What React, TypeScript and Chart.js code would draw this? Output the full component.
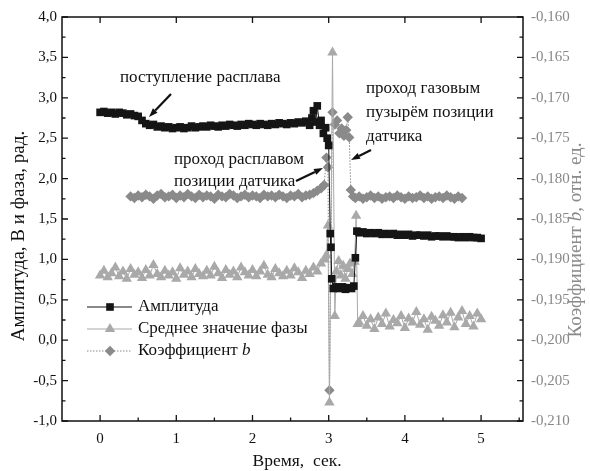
import React, { useEffect, useRef } from "react";
import { Chart, registerables } from "chart.js";
Chart.register(...registerables);

// ---------- tick definitions ----------
const xTicks = [0, 1, 2, 3, 4, 5];
const xTickLabels = ["0", "1", "2", "3", "4", "5"];
const xMinorTicks = [0.5, 1.5, 2.5, 3.5, 4.5, 5.5];
const leftTicks = [-1, -0.5, 0, 0.5, 1, 1.5, 2, 2.5, 3, 3.5, 4];
const leftTickLabels = ["-1,0", "-0,5", "0,0", "0,5", "1,0", "1,5", "2,0", "2,5", "3,0", "3,5", "4,0"];
const leftMinorTicks = [-0.75, -0.25, 0.25, 0.75, 1.25, 1.75, 2.25, 2.75, 3.25, 3.75];
const rightTicks = [-0.21, -0.205, -0.2, -0.195, -0.19, -0.185, -0.18, -0.175, -0.17, -0.165, -0.16];
const rightTickLabels = ["-0,210", "-0,205", "-0,200", "-0,195", "-0,190", "-0,185", "-0,180", "-0,175", "-0,170", "-0,165", "-0,160"];
const rightMinorTicks = [-0.2075, -0.2025, -0.1975, -0.1925, -0.1875, -0.1825, -0.1775, -0.1725, -0.1675, -0.1625];

// ---------- series: Амплитуда ----------
const ampTime = [
  0.00, 0.05, 0.10, 0.15, 0.20, 0.25, 0.30, 0.35, 0.40, 0.45,
  0.50, 0.55, 0.60, 0.65, 0.70, 0.75, 0.80, 0.85, 0.90, 0.95,
  1.00, 1.05, 1.10, 1.15, 1.20, 1.25, 1.30, 1.35, 1.40, 1.45,
  1.50, 1.55, 1.60, 1.65, 1.70, 1.75, 1.80, 1.85, 1.90, 1.95,
  2.00, 2.05, 2.10, 2.15, 2.20, 2.25, 2.30, 2.35, 2.40, 2.45,
  2.50, 2.55, 2.60, 2.65, 2.70, 2.75, 2.78, 2.80, 2.83, 2.85,
  2.88, 2.90, 2.93, 2.96, 2.98, 3.00, 3.02, 3.03, 3.04, 3.06,
  3.10, 3.14, 3.18, 3.22, 3.26, 3.30, 3.33, 3.35, 3.37, 3.40,
  3.45, 3.50, 3.55, 3.60, 3.65, 3.70, 3.75, 3.80, 3.85, 3.90,
  3.95, 4.00, 4.05, 4.10, 4.15, 4.20, 4.25, 4.30, 4.35, 4.40,
  4.45, 4.50, 4.55, 4.60, 4.65, 4.70, 4.75, 4.80, 4.85, 4.90,
  4.95, 5.00,
];
const ampValue = [
  2.82, 2.83, 2.81, 2.82, 2.80, 2.82, 2.81, 2.79, 2.80, 2.78,
  2.77, 2.72, 2.68, 2.66, 2.67, 2.64, 2.65, 2.63, 2.64, 2.62,
  2.63, 2.64, 2.62, 2.63, 2.65, 2.63, 2.64, 2.65, 2.64, 2.66,
  2.65, 2.64, 2.66, 2.65, 2.67, 2.66, 2.65, 2.67, 2.66, 2.68,
  2.67, 2.66, 2.68, 2.67, 2.66, 2.68, 2.67, 2.69, 2.68, 2.67,
  2.69, 2.68, 2.70, 2.69, 2.71, 2.66, 2.75, 2.84, 2.70, 2.90,
  2.66, 2.72, 2.56, 2.63, 2.50, 2.41, 1.32, 1.15, 0.76, 0.64,
  0.66, 0.64, 0.66, 0.63, 0.65, 0.64, 0.67, 1.02, 1.35, 1.33,
  1.34, 1.32, 1.33, 1.32, 1.33, 1.31, 1.32, 1.31, 1.32, 1.30,
  1.31, 1.30, 1.31, 1.29, 1.30, 1.30, 1.29, 1.30, 1.28, 1.29,
  1.29, 1.28, 1.29, 1.28, 1.28, 1.27, 1.28, 1.27, 1.28, 1.27,
  1.27, 1.26,
];

// ---------- series: Среднее значение фазы ----------
const phaseTime = [
  0.00, 0.05, 0.10, 0.15, 0.20, 0.25, 0.30, 0.35, 0.40, 0.45,
  0.50, 0.55, 0.60, 0.65, 0.70, 0.75, 0.80, 0.85, 0.90, 0.95,
  1.00, 1.05, 1.10, 1.15, 1.20, 1.25, 1.30, 1.35, 1.40, 1.45,
  1.50, 1.55, 1.60, 1.65, 1.70, 1.75, 1.80, 1.85, 1.90, 1.95,
  2.00, 2.05, 2.10, 2.15, 2.20, 2.25, 2.30, 2.35, 2.40, 2.45,
  2.50, 2.55, 2.60, 2.65, 2.70, 2.75, 2.80, 2.85, 2.90, 2.95,
  2.97, 2.99, 3.01, 3.05, 3.08, 3.10, 3.13, 3.16, 3.19, 3.22,
  3.25, 3.28, 3.31, 3.34, 3.36, 3.38, 3.40, 3.45, 3.50, 3.55,
  3.60, 3.65, 3.70, 3.75, 3.80, 3.85, 3.90, 3.95, 4.00, 4.05,
  4.10, 4.15, 4.20, 4.25, 4.30, 4.35, 4.40, 4.45, 4.50, 4.55,
  4.60, 4.65, 4.70, 4.75, 4.80, 4.85, 4.90, 4.95, 5.00,
];
const phaseValue = [
  0.80, 0.86, 0.78, 0.83, 0.90, 0.79, 0.85, 0.76, 0.88, 0.81,
  0.84, 0.77, 0.87, 0.80, 0.93, 0.82, 0.78, 0.86, 0.80, 0.84,
  0.76, 0.89, 0.81, 0.85, 0.78, 0.88, 0.82, 0.79, 0.86, 0.80,
  0.91, 0.83, 0.77, 0.87, 0.81, 0.85, 0.78, 0.90, 0.84, 0.80,
  0.87, 0.79, 0.85, 0.92, 0.81, 0.78, 0.88, 0.83, 0.79, 0.86,
  0.80, 0.89, 0.84, 0.77, 0.86, 0.82, 0.90, 0.85, 0.95, 1.00,
  1.05, 1.42, -0.77, 3.56, 0.30, 0.85, 0.98, 0.80, 0.92, 0.76,
  0.88, 0.95, 0.82, 0.97, 1.54, 0.20, 0.22, 0.30, 0.18, 0.26,
  0.14, 0.28, 0.20, 0.33, 0.17, 0.25, 0.21, 0.30, 0.15, 0.27,
  0.22, 0.35, 0.19, 0.26, 0.13, 0.29, 0.24, 0.18, 0.31, 0.22,
  0.34, 0.16, 0.28, 0.36, 0.20, 0.30, 0.17, 0.33, 0.26,
];

// ---------- series: Коэффициент b ----------
const coefTime = [
  0.40, 0.45, 0.50, 0.55, 0.60, 0.65, 0.70, 0.75, 0.80, 0.85,
  0.90, 0.95, 1.00, 1.05, 1.10, 1.15, 1.20, 1.25, 1.30, 1.35,
  1.40, 1.45, 1.50, 1.55, 1.60, 1.65, 1.70, 1.75, 1.80, 1.85,
  1.90, 1.95, 2.00, 2.05, 2.10, 2.15, 2.20, 2.25, 2.30, 2.35,
  2.40, 2.45, 2.50, 2.55, 2.60, 2.65, 2.70, 2.75, 2.80, 2.85,
  2.90, 2.94, 2.97, 2.99, 3.01, 3.05, 3.08, 3.11, 3.14, 3.17,
  3.20, 3.23, 3.25, 3.27, 3.29, 3.32, 3.35, 3.40, 3.45, 3.50,
  3.55, 3.60, 3.65, 3.70, 3.75, 3.80, 3.85, 3.90, 3.95, 4.00,
  4.05, 4.10, 4.15, 4.20, 4.25, 4.30, 4.35, 4.40, 4.45, 4.50,
  4.55, 4.60, 4.65, 4.70, 4.75,
];
const coefValue = [
  -0.1822, -0.1824, -0.1821, -0.1823, -0.1820, -0.1822, -0.1825, -0.1821, -0.1819, -0.1823,
  -0.1822, -0.1820, -0.1824, -0.1821, -0.1823, -0.1819, -0.1822, -0.1824, -0.1820, -0.1823,
  -0.1821, -0.1822, -0.1825, -0.1820, -0.1822, -0.1823, -0.1819, -0.1821, -0.1824, -0.1822,
  -0.1820, -0.1823, -0.1821, -0.1822, -0.1824, -0.1820, -0.1822, -0.1821, -0.1823, -0.1820,
  -0.1822, -0.1824, -0.1821, -0.1822, -0.1819, -0.1823, -0.1821, -0.1820, -0.1818, -0.1815,
  -0.1812, -0.1808, -0.1774, -0.1786, -0.2062, -0.1718, -0.1733, -0.1728, -0.1744, -0.1738,
  -0.1747, -0.1740, -0.1724, -0.1749, -0.1814, -0.1822, -0.1824, -0.1822, -0.1825, -0.1823,
  -0.1821, -0.1824, -0.1822, -0.1825, -0.1823, -0.1822, -0.1824, -0.1821, -0.1823, -0.1825,
  -0.1822, -0.1824, -0.1823, -0.1821, -0.1824, -0.1822, -0.1825, -0.1823, -0.1822, -0.1824,
  -0.1821, -0.1823, -0.1825, -0.1822, -0.1824,
];

const seriesLabels = ["Амплитуда", "Среднее значение фазы", "Коэффициент "];

const SERIF = "'Liberation Serif', 'Times New Roman', 'DejaVu Serif', serif";
const C_AMP = "#151515";
const C_PHASE = "#a9a9a9";
const C_COEF = "#8a8a8a";
const R_AMP = 5.4;
const R_PHASE = 6;
const R_COEF = 5.2;

const zip = (t: number[], v: number[]) => t.map((x, i) => ({ x, y: v[i] }));

function drawMarker(ctx: CanvasRenderingContext2D, style: string, x: number, y: number, r: number) {
  ctx.beginPath();
  if (style === "rect") {
    const s = r * Math.SQRT1_2;
    ctx.rect(x - s, y - s, 2 * s, 2 * s);
  } else if (style === "triangle") {
    ctx.moveTo(x, y - r);
    ctx.lineTo(x + r * 0.866, y + r * 0.5);
    ctx.lineTo(x - r * 0.866, y + r * 0.5);
    ctx.closePath();
  } else {
    ctx.moveTo(x, y - r);
    ctx.lineTo(x + r, y);
    ctx.lineTo(x, y + r);
    ctx.lineTo(x - r, y);
    ctx.closePath();
  }
  ctx.fill();
}

function arrow(ctx: CanvasRenderingContext2D, x1: number, y1: number, x2: number, y2: number) {
  const ang = Math.atan2(y2 - y1, x2 - x1);
  const hl = 9, hw = 3.2;
  const bx = x2 - hl * Math.cos(ang), by = y2 - hl * Math.sin(ang);
  ctx.beginPath();
  ctx.lineWidth = 2.2;
  ctx.moveTo(x1, y1);
  ctx.lineTo(bx, by);
  ctx.stroke();
  ctx.beginPath();
  ctx.moveTo(x2, y2);
  ctx.lineTo(bx + hw * Math.sin(ang), by - hw * Math.cos(ang));
  ctx.lineTo(bx - hw * Math.sin(ang), by + hw * Math.cos(ang));
  ctx.closePath();
  ctx.fill();
}

const decorPlugin = {
  id: "decor",
  afterDraw(chart: any) {
    const ctx: CanvasRenderingContext2D = chart.ctx;
    const a = chart.chartArea;
    const sx = chart.scales.x, sy = chart.scales.y, sr = chart.scales.y2;
    ctx.save();
    // frame
    ctx.strokeStyle = "#111";
    ctx.lineWidth = 1.5;
    ctx.strokeRect(a.left, a.top, a.right - a.left, a.bottom - a.top);
    ctx.lineWidth = 1.3;
    ctx.beginPath();
    xTicks.forEach((v) => {
      const p = sx.getPixelForValue(v);
      ctx.moveTo(p, a.bottom); ctx.lineTo(p, a.bottom - 6);
      ctx.moveTo(p, a.top); ctx.lineTo(p, a.top + 6);
    });
    xMinorTicks.forEach((v) => {
      const p = sx.getPixelForValue(v);
      ctx.moveTo(p, a.bottom); ctx.lineTo(p, a.bottom - 3.5);
    });
    leftTicks.forEach((v) => {
      const p = sy.getPixelForValue(v);
      ctx.moveTo(a.left, p); ctx.lineTo(a.left + 6, p);
    });
    leftMinorTicks.forEach((v) => {
      const p = sy.getPixelForValue(v);
      ctx.moveTo(a.left, p); ctx.lineTo(a.left + 3.5, p);
    });
    rightTicks.forEach((v) => {
      const p = sr.getPixelForValue(v);
      ctx.moveTo(a.right, p); ctx.lineTo(a.right - 6, p);
    });
    rightMinorTicks.forEach((v) => {
      const p = sr.getPixelForValue(v);
      ctx.moveTo(a.right, p); ctx.lineTo(a.right - 3.5, p);
    });
    ctx.stroke();

    // axis titles
    ctx.fillStyle = "#111";
    ctx.font = `17.5px ${SERIF}`;
    ctx.textAlign = "center";
    ctx.textBaseline = "middle";
    ctx.fillText("Время,  сек.", 297, 461);

    ctx.save();
    ctx.font = `19px ${SERIF}`;
    ctx.translate(19, 236);
    ctx.rotate(-Math.PI / 2);
    ctx.fillText("Амплитуда, В и фаза, рад.", 0, 0);
    ctx.restore();

    ctx.save();
    ctx.fillStyle = "#8a8a8a";
    ctx.translate(576, 240);
    ctx.rotate(-Math.PI / 2);
    ctx.textAlign = "left";
    const p1 = "Коэффициент ", p2 = "b", p3 = ", отн. ед.";
    ctx.font = `19px ${SERIF}`;
    const w1 = ctx.measureText(p1).width, w3 = ctx.measureText(p3).width;
    ctx.font = `italic 19px ${SERIF}`;
    const w2 = ctx.measureText(p2).width;
    let cx = -(w1 + w2 + w3) / 2;
    ctx.font = `19px ${SERIF}`;
    ctx.fillText(p1, cx, 0); cx += w1;
    ctx.font = `italic 19px ${SERIF}`;
    ctx.fillText(p2, cx, 0); cx += w2;
    ctx.font = `19px ${SERIF}`;
    ctx.fillText(p3, cx, 0);
    ctx.restore();

    // legend
    const rows = [
      { c: C_AMP, s: "rect", r: R_AMP, dash: [] as number[], y: 307 },
      { c: C_PHASE, s: "triangle", r: R_PHASE, dash: [] as number[], y: 329 },
      { c: C_COEF, s: "diamond", r: R_COEF, dash: [1.5, 1.5], y: 351 },
    ];
    rows.forEach((row, i) => {
      ctx.strokeStyle = row.c;
      ctx.fillStyle = row.c;
      ctx.lineWidth = 1.2;
      ctx.setLineDash(row.dash);
      ctx.beginPath();
      ctx.moveTo(87, row.y); ctx.lineTo(132, row.y);
      ctx.stroke();
      ctx.setLineDash([]);
      drawMarker(ctx, row.s, 110, row.y, row.r);
      ctx.fillStyle = "#111";
      ctx.textAlign = "left";
      ctx.font = `17px ${SERIF}`;
      ctx.fillText(seriesLabels[i], 138, row.y);
      if (i === 2) {
        const w = ctx.measureText(seriesLabels[i]).width;
        ctx.font = `italic 17px ${SERIF}`;
        ctx.fillText("b", 138 + w, row.y);
      }
    });

    // annotations
    ctx.fillStyle = "#111";
    ctx.strokeStyle = "#111";
    ctx.font = `17px ${SERIF}`;
    ctx.textAlign = "left";
    ctx.fillText("поступление расплава", 120, 78);
    ctx.fillText("проход расплавом", 174, 160);
    ctx.fillText("позиции датчика", 174, 182);
    ctx.fillText("проход газовым", 366, 89);
    ctx.fillText("пузырём позиции", 366, 113);
    ctx.fillText("датчика", 366, 137);
    arrow(ctx, 171, 94, 149, 117);
    arrow(ctx, 296, 181, 323, 168);
    arrow(ctx, 371, 150, 351, 160);
    ctx.restore();
  },
};

export default function App() {
  const ref = useRef<HTMLCanvasElement | null>(null);
  useEffect(() => {
    if (!ref.current) return;
    const tickFont = { family: SERIF, size: 15 };
    const chart = new Chart(ref.current, {
      type: "line",
      data: {
        datasets: [
          {
            label: seriesLabels[0],
            data: zip(ampTime, ampValue),
            yAxisID: "y",
            borderColor: C_AMP,
            backgroundColor: C_AMP,
            borderWidth: 1,
            pointStyle: "rect",
            pointRadius: R_AMP,
            pointBorderWidth: 0,
            pointBackgroundColor: C_AMP,
          },
          {
            label: seriesLabels[1],
            data: zip(phaseTime, phaseValue),
            yAxisID: "y",
            borderColor: C_PHASE,
            backgroundColor: C_PHASE,
            borderWidth: 1,
            pointStyle: "triangle",
            pointRadius: R_PHASE,
            pointBorderWidth: 0,
            pointBackgroundColor: C_PHASE,
          },
          {
            label: "Коэффициент b",
            data: zip(coefTime, coefValue),
            yAxisID: "y2",
            borderColor: C_COEF,
            backgroundColor: C_COEF,
            borderWidth: 1,
            borderDash: [1.5, 1.5],
            pointStyle: "rectRot",
            pointRadius: R_COEF,
            pointBorderWidth: 0,
            pointBackgroundColor: C_COEF,
          },
        ],
      },
      options: {
        animation: false,
        responsive: false,
        devicePixelRatio: 1,
        layout: { padding: { top: 16, left: 0, right: 0, bottom: 0 } },
        plugins: { legend: { display: false }, tooltip: { enabled: false } },
        elements: { line: { tension: 0 } },
        scales: {
          x: {
            type: "linear",
            min: -0.5,
            max: 5.55,
            grid: { display: false, drawTicks: false },
            border: { display: false },
            ticks: {
              font: tickFont,
              color: "#111",
              padding: 9,
              maxRotation: 0,
              callback: (_v: any, i: number) => xTickLabels[i],
            },
            afterBuildTicks: (s: any) => { s.ticks = xTicks.map((v) => ({ value: v })); },
            afterFit: (s: any) => { s.height = 50; },
          },
          y: {
            type: "linear",
            position: "left",
            min: -1,
            max: 4,
            grid: { display: false, drawTicks: false },
            border: { display: false },
            ticks: {
              font: tickFont,
              color: "#111",
              padding: 5,
              callback: (_v: any, i: number) => leftTickLabels[i],
            },
            afterBuildTicks: (s: any) => { s.ticks = leftTicks.map((v) => ({ value: v })); },
            afterFit: (s: any) => { s.width = 62; },
          },
          y2: {
            type: "linear",
            position: "right",
            min: -0.21,
            max: -0.16,
            grid: { display: false, drawTicks: false },
            border: { display: false },
            ticks: {
              font: tickFont,
              color: "#888",
              padding: 8,
              callback: (_v: any, i: number) => rightTickLabels[i],
            },
            afterBuildTicks: (s: any) => { s.ticks = rightTicks.map((v) => ({ value: v })); },
            afterFit: (s: any) => { s.width = 67; },
          },
        },
      } as any,
      plugins: [decorPlugin],
    });
    return () => chart.destroy();
  }, []);
  return (
    <div style={{ position: "fixed", left: 0, top: 0, width: 590, height: 471, background: "#fff" }}>
      <canvas ref={ref} width={590} height={471} style={{ width: 590, height: 471, display: "block" }} />
    </div>
  );
}
